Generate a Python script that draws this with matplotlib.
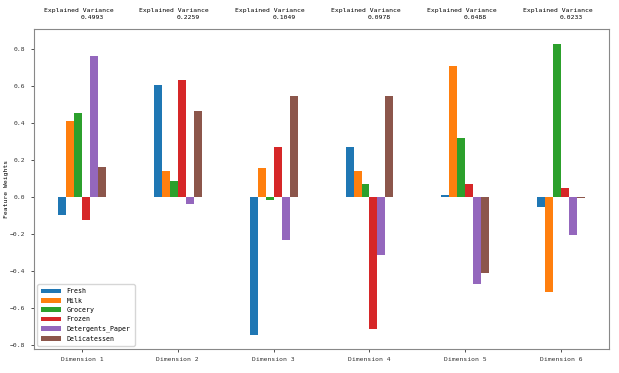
import numpy as np
import matplotlib
from matplotlib import pyplot as plt

matplotlib.rc("font", family=["DejaVu Sans Mono"], size=4.6)

dims = ["Dimension 1", "Dimension 2", "Dimension 3", "Dimension 4", "Dimension 5", "Dimension 6"]
features = ["Fresh", "Milk", "Grocery", "Frozen", "Detergents_Paper", "Delicatessen"]
variance = [0.4993, 0.2259, 0.1049, 0.0978, 0.0488, 0.0233]

fresh = [-0.0976, 0.6008, -0.7452, 0.2667, 0.0114, -0.0543]
milk = [0.4109, 0.1370, 0.1544, 0.1375, 0.7083, -0.5177]
grocery = [0.4511, 0.0852, -0.0204, 0.0710, 0.3168, 0.8267]
frozen = [-0.1280, 0.6300, 0.2670, -0.7133, 0.0671, 0.0471]
detergents = [0.7595, -0.0376, -0.2349, -0.3157, -0.4729, -0.2080]
deli = [0.1579, 0.4634, 0.5422, 0.5445, -0.4120, -0.0094]

series = [fresh, milk, grocery, frozen, detergents, deli]
colors = ["#1f77b4", "#ff7f0e", "#2ca02c", "#d62728", "#9467bd", "#8c564b"]

fig = plt.figure(figsize=(6.19, 3.73), dpi=100)
ax = fig.add_axes([0.055, 0.064, 0.929, 0.858])

x = np.arange(len(dims))
w = 0.5 / len(features)
for k, (name, vals) in enumerate(zip(features, series)):
    ax.bar(x - 0.25 + w / 2 + k * w, vals, width=w, color=colors[k], label=name)

ax.set_xlim(-0.5, len(dims) - 0.5)
ax.set_xticks(x)
ax.set_xticklabels(dims, rotation=0)
ax.set_ylabel("Feature Weights", labelpad=1)

for sp in ax.spines.values():
    sp.set_color("#888888")
    sp.set_linewidth(0.8)
ax.tick_params(colors="#333333", length=2.5, width=0.6)

# 每个维度上方标注解释方差
ymax = ax.get_ylim()[1]
for i, v in enumerate(variance):
    ax.text(i - 0.40, ymax + 0.088, "Explained Variance", va="bottom")
    ax.text(i - 0.015, ymax + 0.05, "%.4f" % v, va="bottom")

ax.legend(loc="lower left", fontsize=4.8, handlelength=3, borderpad=0.6)

plt.savefig("out.png")
